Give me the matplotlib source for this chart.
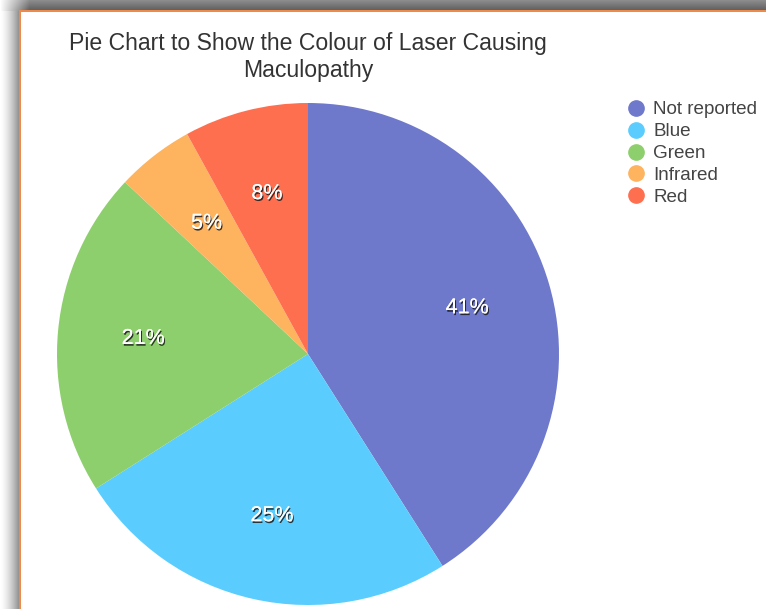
import matplotlib
matplotlib.use("Agg")
import matplotlib.pyplot as plt
import matplotlib.patheffects as pe
from matplotlib.lines import Line2D
import numpy as np

plt.rcParams['font.family'] = ['Liberation Sans', 'DejaVu Sans']

# data
categories = ["Not reported", "Blue", "Green", "Infrared", "Red"]
percent = [41, 25, 21, 5, 8]
colours = ["#6F79CC", "#5ACDFE", "#8ECF6D", "#FEB35F", "#FE6F50"]
title = "Pie Chart to Show the Colour of Laser Causing\nMaculopathy"

W, H = 766, 609
fig = plt.figure(figsize=(W / 100, H / 100), dpi=100)

# window frame with a drop shadow (top and left) and orange edge
bg = np.ones((H, W, 3))
top = 11
left = 19
for r in range(top):
    g = 0.55 - 0.2 * r / top
    bg[r, :, :] = g
for c in range(left):
    g = 1.0 - 0.45 * (c / left) ** 1.5
    bg[top:, c, :] = np.minimum(bg[top:, c, :], g)
# soften the top-left corner
for r in range(top):
    for c in range(left + 10):
        t = min(1.0, (c / (left + 10)))
        bg[r, c, :] = 1.0 - (1.0 - bg[r, c, :]) * t
orange = np.array([0xF0, 0x8A, 0x4B]) / 255
bg[top - 1:top + 1, left:, :] = orange
bg[top:, left:left + 2, :] = orange
ax_bg = fig.add_axes([0, 0, 1, 1])
ax_bg.imshow(bg, aspect='auto', interpolation='bilinear')
ax_bg.axis('off')

# pie
cx, cy, rad = 308, 354, 251
ax = fig.add_axes([(cx - rad) / W, (H - cy - rad) / H, 2 * rad / W, 2 * rad / H])
wedges, texts, autotexts = ax.pie(
    percent, colors=colours, startangle=90, counterclock=False,
    autopct=lambda p: f"{p:.0f}%", pctdistance=0.66,
    wedgeprops=dict(linewidth=0), textprops=dict(color="white", fontsize=15.5))
for t in autotexts:
    t.set_path_effects([pe.withSimplePatchShadow(offset=(0.8, -1.3), shadow_rgbFace="#1a1a1a", alpha=0.85),
                        pe.Normal()])
ax.set_xlim(-1, 1)
ax.set_ylim(-1, 1)
ax.set_aspect('equal')

fig.text(cx / W, 1 - 57 / H, title, ha='center', va='center', fontsize=16.6,
         color="#333333", linespacing=1.25)

handles = [Line2D([], [], marker='o', linestyle='none', markersize=11,
                  markerfacecolor=c, markeredgecolor=c) for c in colours]
leg = fig.legend(handles, categories, loc='upper left',
                 bbox_to_anchor=(625 / W, 1 - 101 / H), frameon=False,
                 fontsize=13.6, labelspacing=0.25, handletextpad=0.3,
                 handlelength=1.2, borderpad=0, borderaxespad=0)
for t in leg.get_texts():
    t.set_color("#444444")

fig.savefig("out.png", dpi=100)
